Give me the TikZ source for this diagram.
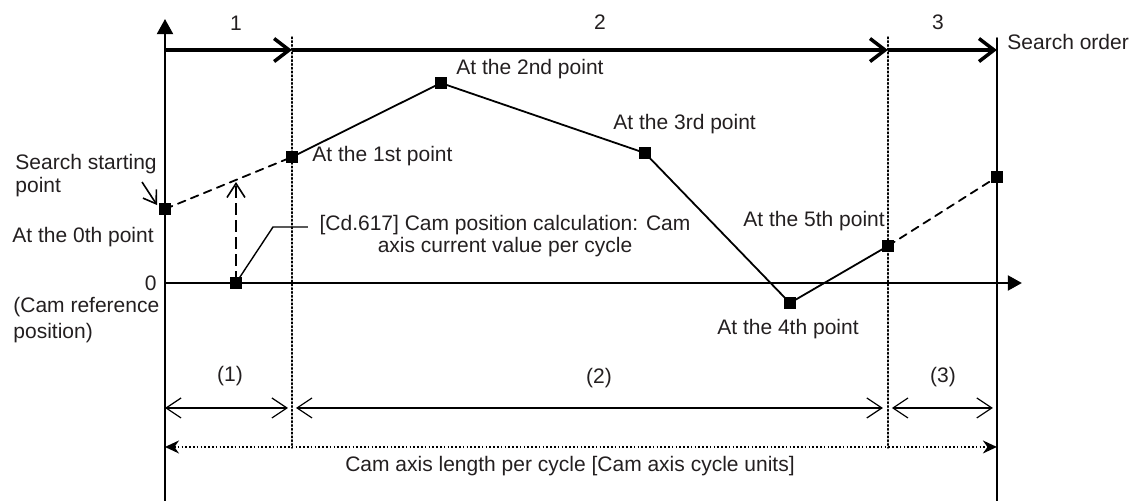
\documentclass[tikz,border=0pt]{standalone}
\usepackage{fontspec}
\setmainfont{Liberation Sans}
\usepackage{tikz}
\usetikzlibrary{calc, arrows.meta}
\usepackage{tkz-euclide}
\usepackage{xcolor}
\definecolor{txtgray}{RGB}{35,31,32}

\tikzset{
  camtext/.style={text=txtgray, font=\fontsize{10.5}{11.5}\selectfont, inner sep=0pt},
  campt/.style={rectangle, fill=black, inner sep=0pt, minimum size=6.3pt},
  gridline/.style={line width=0.75pt, dash pattern=on 0.8pt off 1.1pt},
  axisline/.style={line width=1pt},
  orderarrow/.style={line width=1.75pt, -{Straight Barb[length=7.5pt,width=11.5pt]}},
  dimarrow/.style={line width=0.6pt, {Straight Barb[length=7.5pt,width=10pt]}-{Straight Barb[length=7.5pt,width=10pt]}},
}

\begin{document}
\begin{tikzpicture}[scale=1.757]
            \useasboundingbox (-1.65,-2.18) rectangle (9.65,2.83);
            % axes and cam points
            \tkzDefPoints{0/0/O, 0/-2.18/B, 0/2.64/T, 8.57/0/X,
                          0/0.74/P0, 1.27/1.26/P1, 2.76/2.00/P2, 4.80/1.30/P3,
                          6.25/-0.20/P4, 7.23/0.37/P5, 8.32/1.06/P6,
                          0.71/0/Q, 0.71/1.01/Qt, 1.08/0.56/K, 1.43/0.56/L}
            % search order arrows and grid
            \tkzDefPoints{0/2.33/S0, 1.27/2.33/S1, 7.23/2.33/S2, 8.32/2.33/S3,
                          1.27/2.46/G1, 1.27/-1.65/H1, 7.23/2.46/G2, 7.23/-1.65/H2,
                          8.32/2.45/R, 8.32/-2.18/Rb}
            % dimension lines
            \tkzDefPoints{0/-1.25/D0, 1.23/-1.25/D1, 1.31/-1.25/D2, 7.18/-1.25/D3,
                          7.27/-1.25/D4, 8.28/-1.25/D5, 0/-1.64/E0, 8.32/-1.64/E1,
                          -0.23/1.01/A, -0.08/0.78/At}
            \tkzDrawSegments[gridline](G1,H1 G2,H2)
            \tkzDrawSegments[axisline](R,Rb)
            \draw[axisline, -{Triangle[length=7.5pt,width=8pt]}] (B) -- (T);
            \draw[axisline, -{Triangle[length=7pt,width=7.5pt]}] (O) -- (X);
            \draw[orderarrow] (S0) -- (S1);
            \draw[orderarrow] (S1) -- (S2);
            \draw[orderarrow] (S2) -- (S3);
            \tkzDrawSegments[line width=0.9pt](P1,P2 P2,P3 P3,P4 P4,P5)
            \tkzDrawSegments[line width=0.9pt, dash pattern=on 4pt off 3pt](P0,P1 P5,P6)
            \draw[line width=0.8pt, dash pattern=on 6pt off 2.5pt,
                  -{Straight Barb[length=7pt,width=9pt]}] (Q) -- (Qt);
            \draw[line width=0.8pt, -{Straight Barb[length=6pt,width=8pt]}] (A) -- (At);
            \draw[line width=0.7pt] (Q) -- (K) -- (L);
            \draw[dimarrow] (D0) -- (D1);
            \draw[dimarrow] (D2) -- (D3);
            \draw[dimarrow] (D4) -- (D5);
            \draw[gridline, {Stealth[length=7pt,width=6.5pt]}-{Stealth[length=7pt,width=6.5pt]}] (E0) -- (E1);
            \foreach \p in {P0,P1,P2,P3,P4,P5,P6,Q}
              \node[campt] (n\p) at (\p) {};
            % labels
            \node[camtext] (o1) at (0.71,2.60) {1};
            \node[camtext] (o2) at (4.35,2.61) {2};
            \node[camtext] (o3) at (7.73,2.61) {3};
            \node[camtext, anchor=west] (order) at (8.42,2.41) {Search order};
            \node[camtext, anchor=west] (l1) at (1.47,1.27) {At the 1st point};
            \node[camtext, anchor=west] (l2) at (2.91,2.14) {At the 2nd point};
            \node[camtext, anchor=west] (l3) at (4.48,1.59) {At the 3rd point};
            \node[camtext] (l4) at (6.23,-0.46) {At the 4th point};
            \node[camtext, anchor=west] (l5) at (5.78,0.62) {At the 5th point};
            \node[camtext, anchor=west, align=left] (start) at (-1.50,1.07) {Search starting\\point};
            \node[camtext, anchor=west] (l0) at (-1.53,0.46) {At the 0th point};
            \node[camtext, anchor=east] (zero) at (-0.08,0) {0};
            \node[camtext, anchor=west, align=left,
                  font=\fontsize{10.5}{13}\selectfont] (ref) at (-1.52,-0.37) {(Cam reference\\position)};
            \node[camtext, align=center, font=\fontsize{10.5}{11}\selectfont] (cd) at (3.40,0.47)
                 {[Cd.617] Cam position calculation: Cam\\axis current value per cycle};
            \node[camtext] (d1) at (0.65,-0.93) {(1)};
            \node[camtext] (d2) at (4.34,-0.95) {(2)};
            \node[camtext] (d3) at (7.78,-0.94) {(3)};
            \node[camtext] (len) at (4.05,-1.83) {Cam axis length per cycle [Cam axis cycle units]};
        \end{tikzpicture}
\end{document}
